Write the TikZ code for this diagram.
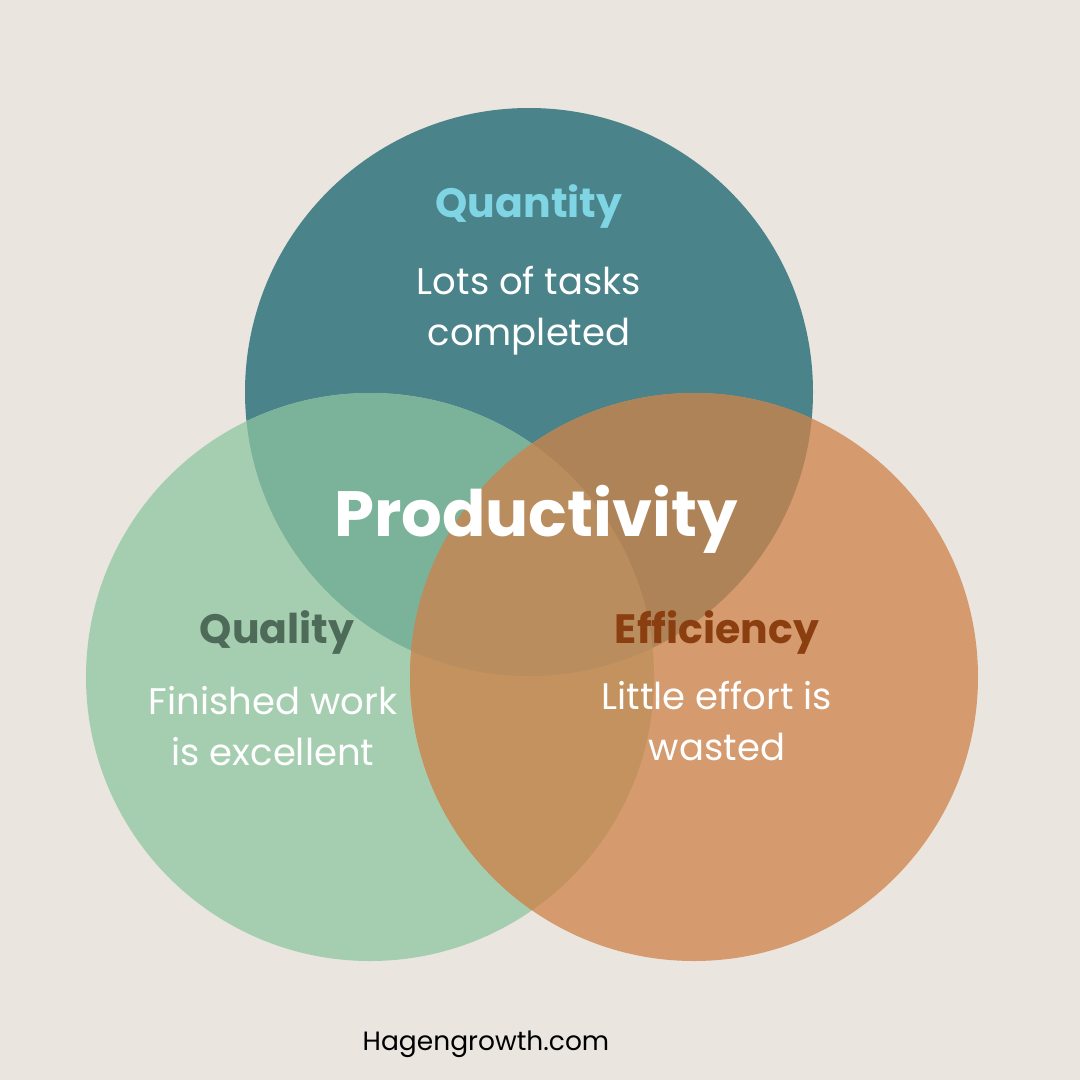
\documentclass[tikz,border=0pt]{standalone}
\usepackage{fontspec}
\setmainfont{Poppins}
\definecolor{paper}{HTML}{EAE6DF}
\definecolor{quantityfill}{HTML}{4A838A}
\definecolor{qualityfill}{HTML}{A5CEB1}
\definecolor{efficiencyfill}{HTML}{D59A6E}
\definecolor{quantqual}{HTML}{7BB39A}
\definecolor{quanteff}{HTML}{AE8358}
\definecolor{qualeff}{HTML}{C3925F}
\definecolor{allthree}{HTML}{B98D5E}
\definecolor{quantitytext}{HTML}{80D5E5}
\definecolor{qualitytext}{HTML}{4E6B59}
\definecolor{efficiencytext}{HTML}{8B3F10}

\begin{document}
\begin{tikzpicture}[x=1pt,y=1pt,yscale=-1,xscale=1,
  heading/.style={anchor=base,inner sep=0pt,font=\fontsize{41}{43}\selectfont\bfseries},
  body/.style={anchor=base,inner sep=0pt,align=center,text=white,font=\fontsize{37}{51}\selectfont},
  title/.style={anchor=base,inner sep=0pt,text=white,font=\fontsize{64}{66}\selectfont\bfseries},
  credit/.style={anchor=base,inner sep=0pt,text=black,font=\fontsize{26.5}{28}\selectfont}]
\useasboundingbox (0,0) rectangle (1080,1080);
%Shape: Rectangle [id:background]
\fill [paper] (0,0) rectangle (1080,1080);

%Shape: Circle [id:quantity]
\fill [quantityfill] (529,392) circle (284);
%Shape: Circle [id:quality]
\fill [qualityfill] (370,677) circle (284);
%Shape: Circle [id:efficiency]
\fill [efficiencyfill] (694,677) circle (284);

%Overlap quantity / quality
\begin{scope}
\clip (529,392) circle (284);
\fill [quantqual] (370,677) circle (284);
\end{scope}
%Overlap quantity / efficiency
\begin{scope}
\clip (529,392) circle (284);
\fill [quanteff] (694,677) circle (284);
\end{scope}
%Overlap quality / efficiency
\begin{scope}
\clip (370,677) circle (284);
\fill [qualeff] (694,677) circle (284);
\end{scope}
%Overlap of all three
\begin{scope}
\clip (529,392) circle (284);
\clip (370,677) circle (284);
\fill [allthree] (694,677) circle (284);
\end{scope}

% Text Node
\node [heading,text=quantitytext] (quantity) at (529,217) {Quantity};
% Text Node
\node [body] (quantitynote) at (529,345) {Lots of tasks\\completed};
% Text Node
\node [title] (productivity) at (536,536) {Productivity};
% Text Node
\node [heading,text=qualitytext] (quality) at (277,643) {Quality};
% Text Node
\node [body] (qualitynote) at (273,765) {Finished work\\is excellent};
% Text Node
\node [heading,text=efficiencytext] (efficiency) at (717,643) {Efficiency};
% Text Node
\node [body] (efficiencynote) at (717,760) {Little effort is\\wasted};
% Text Node
\node [credit] (site) at (486,1050) {Hagengrowth.com};

\end{tikzpicture}
\end{document}
